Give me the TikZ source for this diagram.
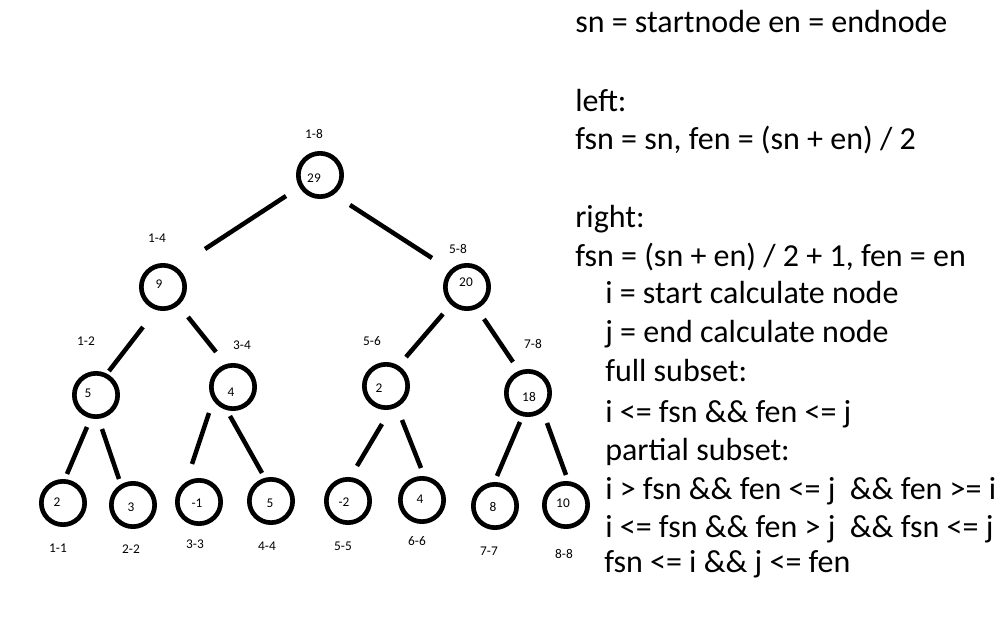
\documentclass[tikz,border=0pt]{standalone}
\usepackage{fontspec}
\setmainfont{Carlito}
\usetikzlibrary{calc}
\begin{document}
\begin{tikzpicture}[x=0.75pt,y=-0.75pt,
  ring/.style={circle,draw,line width=3.5pt,minimum size=32.5pt,inner sep=0pt},
  link/.style={line width=3.4pt},
  num/.style={font=\fontsize{10}{12}\selectfont,inner sep=0pt},
  rng/.style={font=\fontsize{10}{12}\selectfont,inner sep=0pt},
  txt/.style={font=\fontsize{24}{28}\selectfont,anchor=base west,inner sep=0pt}]
\fill[white] (0,0) rectangle (1008,630);
\useasboundingbox (0,0) rectangle (1008,630);
% circles
\node[ring] (n29) at (320,175) {};
\node[ring] (n9)  at (163,287) {};
\node[ring] (n20) at (467,287) {};
\node[ring] (n5)  at (96,395) {};
\node[ring] (n4)  at (233,387) {};
\node[ring] (n2)  at (386,386) {};
\node[ring] (n18) at (528,393) {};
\node[ring] (l2)  at (63,503) {};
\node[ring] (l3)  at (133,505) {};
\node[ring] (lm1) at (199,502) {};
\node[ring] (l5)  at (271,501) {};
\node[ring] (lm2) at (348,501) {};
\node[ring] (l4)  at (422,500) {};
\node[ring] (l8)  at (495,506) {};
\node[ring] (l10) at (566,505) {};
% values
\node[num] (v29) at (314,178) {29};
\node[num] (v9)  at (159,284) {9};
\node[num] (v20) at (466,282) {20};
\node[num] (v5)  at (88,393) {5};
\node[num] (v4)  at (231,392) {4};
\node[num] (v2)  at (379,388) {2};
\node[num] (v18) at (529,397) {18};
\node[num] (w2)  at (57,502) {2};
\node[num] (w3)  at (131,507) {3};
\node[num] (wm1) at (197,503) {-1};
\node[num] (w5)  at (270,503) {5};
\node[num] (wm2) at (344,502) {-2};
\node[num] (w4)  at (420,499) {4};
\node[num] (w8)  at (493,507) {8};
\node[num] (w10) at (563,503) {10};
% ranges
\node[rng] (r18) at (314,134) {1-8};
\node[rng] (r14) at (157,238) {1-4};
\node[rng] (r58) at (458,249) {5-8};
\node[rng] (r12) at (86,341) {1-2};
\node[rng] (r34) at (242,345) {3-4};
\node[rng] (r56) at (372,341) {5-6};
\node[rng] (r78) at (533,344) {7-8};
\node[rng] (r11) at (58,548) {1-1};
\node[rng] (r22) at (131,549) {2-2};
\node[rng] (r33) at (195,544) {3-3};
\node[rng] (r44) at (267,546) {4-4};
\node[rng] (r55) at (343,546) {5-5};
\node[rng] (r66) at (417,541) {6-6};
\node[rng] (r77) at (489,551) {7-7};
\node[rng] (r88) at (564,554) {8-8};
% connectors
\draw[link] ($(n29)+(-34,21)$) -- ($(n9)+(42,-38)$);
\draw[link] ($(n29)+(30,30)$) -- ($(n20)+(-35,-29)$);
\draw[link] ($(n9)+(-20,40)$) -- ($(n5)+(13,-24)$);
\draw[link] ($(n9)+(25,30)$) -- ($(n4)+(-17,-35)$);
\draw[link] ($(n20)+(-24,27)$) -- ($(n2)+(20,-29)$);
\draw[link] ($(n20)+(17,32)$) -- ($(n18)+(-15,-31)$);
\draw[link] ($(n5)+(-9,32)$) -- ($(l2)+(4,-29)$);
\draw[link] ($(n5)+(6,34)$) -- ($(l3)+(-14,-26)$);
\draw[link] ($(n4)+(-24,26)$) -- ($(lm1)+(-7,-38)$);
\draw[link] ($(n4)+(-3,29)$) -- ($(l5)+(-9,-28)$);
\draw[link] ($(n2)+(-4,38)$) -- ($(lm2)+(9,-35)$);
\draw[link] ($(n2)+(16,34)$) -- ($(l4)+(-1,-32)$);
\draw[link] ($(n18)+(-8,29)$) -- ($(l8)+(2,-30)$);
\draw[link] ($(n18)+(19,30)$) -- ($(l10)+(0,-30)$);
% text
\node[txt] (t1)  at (575,33)  {sn = startnode en = endnode};
\node[txt] (t2)  at (575,112) {left:};
\node[txt] (t3)  at (575,150) {fsn = sn, fen = (sn + en) / 2};
\node[txt] (t4)  at (575,228) {right:};
\node[txt] (t5)  at (575,267) {fsn = (sn + en) / 2 + 1, fen = en};
\node[txt] (t6)  at (605,304) {i = start calculate node};
\node[txt] (t7)  at (605,343) {j = end calculate node};
\node[txt] (t8)  at (605,382) {full subset:};
\node[txt] (t9)  at (605,423) {i <= fsn \&\& fen <= j};
\node[txt] (t10) at (605,461) {partial subset:};
\node[txt] (t11) at (605,500) {i > fsn \&\& fen <= j\ \ \&\& fen >= i};
\node[txt] (t12) at (605,538) {i <= fsn \&\& fen > j\ \ \&\& fsn <= j};
\node[txt] (t13) at (604,573) {fsn <= i \&\& j <= fen};
\end{tikzpicture}
\end{document}
